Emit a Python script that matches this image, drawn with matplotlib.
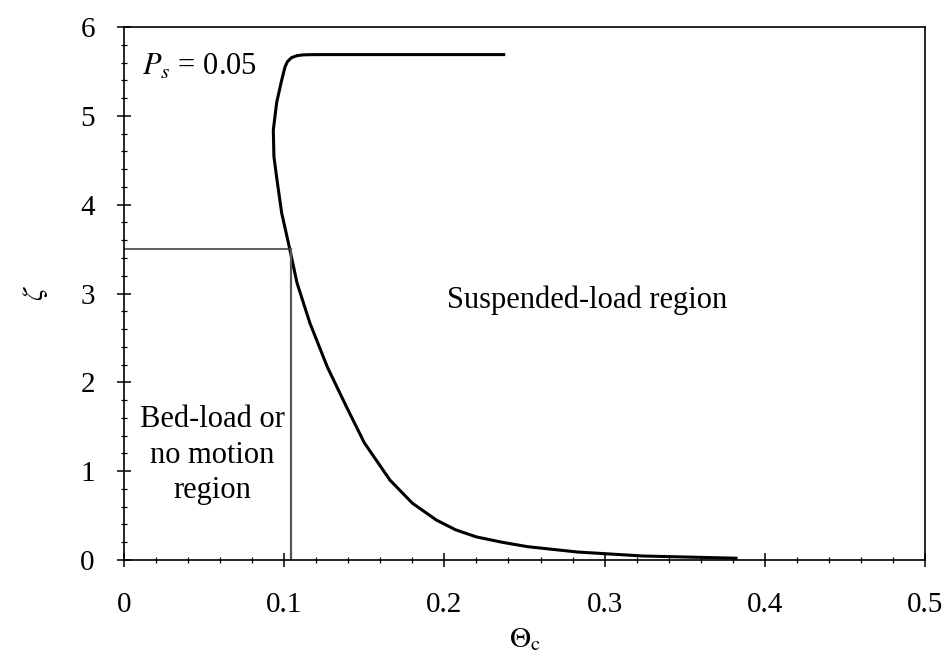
import numpy as np
import matplotlib.pyplot as plt
from matplotlib.ticker import MultipleLocator

plt.rcParams['font.family'] = ['Liberation Serif', 'DejaVu Serif']
plt.rcParams['mathtext.fontset'] = 'stix'

# curve (Theta_c, zeta)
theta = [0.238, 0.180, 0.140, 0.122, 0.116, 0.112, 0.108, 0.1045, 0.102, 0.1005, 0.0984,
         0.0953, 0.0932, 0.0936, 0.0955, 0.0984, 0.1036, 0.108, 0.116, 0.127,
         0.139, 0.150, 0.166, 0.180, 0.195, 0.207, 0.220, 0.236, 0.252, 0.283,
         0.324, 0.383]
zeta = [5.69, 5.69, 5.69, 5.69, 5.689, 5.687, 5.678, 5.655, 5.61, 5.55, 5.40,
        5.15, 4.84, 4.54, 4.28, 3.91, 3.49, 3.12, 2.67, 2.17,
        1.72, 1.32, 0.90, 0.64, 0.45, 0.34, 0.26, 0.20, 0.15, 0.09,
        0.045, 0.02]

theta_crit = 0.104
zeta_crit = 3.5

fig = plt.figure(figsize=(9.48, 6.6), dpi=100)
ax = fig.add_axes([0.1308, 0.1515, 0.8449, 0.8075])

ax.plot(theta, zeta, color='black', lw=2.2, solid_capstyle='butt', solid_joinstyle='round')
ax.plot([0, theta_crit], [zeta_crit, zeta_crit], color='#333333', lw=1.1)
ax.plot([theta_crit, theta_crit], [0, zeta_crit], color='#555555', lw=1.6)

ax.set_xlim(0, 0.5)
ax.set_ylim(0, 6)
ax.xaxis.set_minor_locator(MultipleLocator(0.02))
ax.yaxis.set_major_locator(MultipleLocator(1))
ax.yaxis.set_minor_locator(MultipleLocator(0.2))
ax.set_xticks([0, 0.1, 0.2, 0.3, 0.4, 0.5])
ax.set_xticklabels(['0', '0.1', '0.2', '0.3', '0.4', '0.5'])
ax.tick_params(which='major', direction='inout', length=10, width=1.1, labelsize=21)
ax.tick_params(which='minor', direction='inout', length=5, width=0.9)
ax.tick_params(axis='x', pad=18)
ax.tick_params(axis='y', pad=16)
for s in ax.spines.values():
    s.set_linewidth(1.2)

ax.set_xlabel(r'$\Theta_\mathrm{c}$', fontsize=21, labelpad=6)
ax.set_ylabel(r'$\zeta$', fontsize=21, labelpad=22)

ax.text(0.011, 5.55, r'$P_s$ = 0.05', fontsize=22, va='center', ha='left')
ax.text(0.289, 2.93, 'Suspended-load region', fontsize=22, ha='center', va='center')
ax.text(0.055, 1.18, 'Bed-load or\nno motion\nregion', fontsize=22, ha='center', va='center',
        linespacing=1.3)

fig.savefig('out.png', dpi=100)
